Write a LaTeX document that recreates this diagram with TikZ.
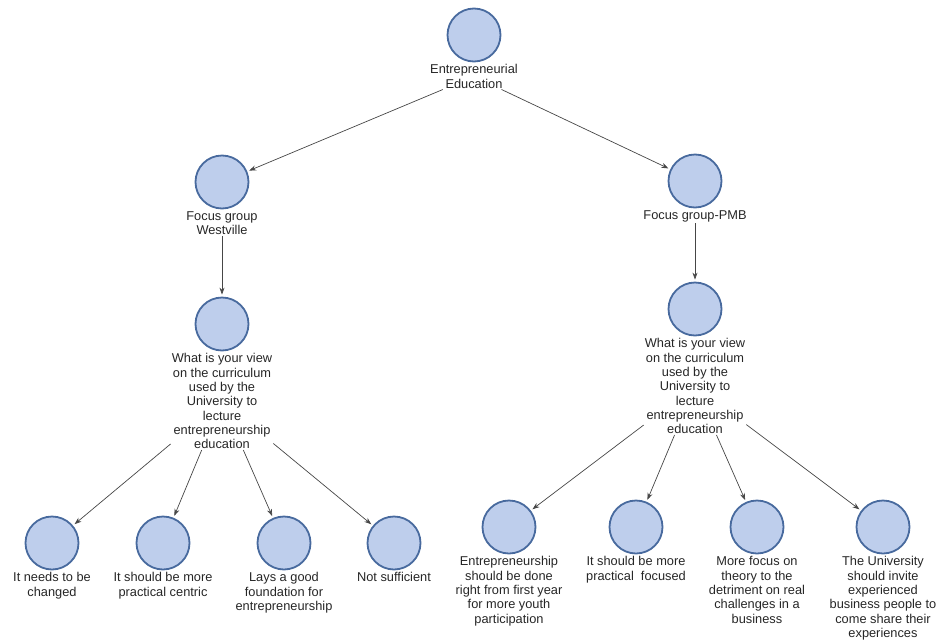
\documentclass[tikz,border=0pt]{standalone}
\usepackage{fontspec}
\setmainfont{Liberation Sans}
\usetikzlibrary{positioning,arrows.meta}

\definecolor{dotfill}{RGB}{190,206,236}
\definecolor{dotline}{RGB}{72,106,158}
\definecolor{arrgray}{RGB}{70,70,70}

\begin{document}
\begin{tikzpicture}[x=1pt, y=-1pt,
    dot/.style={circle, draw=dotline, fill=dotfill, line width=1.8pt, minimum size=53pt, inner sep=0pt},
    lbl/.style={align=center, inner sep=1pt, font=\fontsize{12.8}{14.3}\selectfont, text=black!85},
    arr/.style={-{Stealth[length=7pt,width=5pt]}, arrgray, line width=0.7pt, shorten >=2pt}]
    \useasboundingbox (0,0) rectangle (938,643);

    %% top of the tree
    \node[dot] (root) at (474,35) {};
    \node[lbl, below=1pt of root] (rootl) {Entrepreneurial\\Education};

    \node[dot] (west) at (222,182) {};
    \node[lbl, below=1pt of west] (westl) {Focus group\\Westville};
    \node[dot] (pmb) at (695,181) {};
    \node[lbl, below=1pt of pmb] (pmbl) {Focus group-PMB};

    \draw[arr] (rootl) -- (west);
    \draw[arr] (rootl) -- (pmb);

    %% the question, once per group
    \node[dot] (qw) at (222,324) {};
    \node[lbl, below=1pt of qw] (qwl) {What is your view\\on the curriculum\\used by the\\University to\\lecture\\entrepreneurship\\education};
    \node[dot] (qp) at (695,309) {};
    \node[lbl, below=1pt of qp] (qpl) {What is your view\\on the curriculum\\used by the\\University to\\lecture\\entrepreneurship\\education};

    \draw[arr] (westl) -- (qw);
    \draw[arr] (pmbl) -- (qp);

    %% answers Westville
    \foreach \n/\x/\t in {wa/52/{It needs to be\\changed}, wb/163/{It should be more\\practical centric},
            wc/284/{Lays a good\\foundation for\\entrepreneurship}, wd/394/{Not sufficient}} {
        \node[dot] (\n) at (\x,543) {};
        \node[lbl, below=1pt of \n] (\n l) {\t};
        \draw[arr] (qwl) -- (\n);
    }

    %% answers PMB
    \foreach \n/\x/\t in {pa/509/{Entrepreneurship\\should be done\\right from first year\\for more youth\\participation},
            pb/636/{It should be more\\practical\ \ focused},
            pc/757/{More focus on\\theory to the\\detriment on real\\challenges in a\\business},
            pd/883/{The University\\should invite\\experienced\\business people to\\come share their\\experiences}} {
        \node[dot] (\n) at (\x,527) {};
        \node[lbl, below=1pt of \n] (\n l) {\t};
        \draw[arr] (qpl) -- (\n);
    }
\end{tikzpicture}
\end{document}
